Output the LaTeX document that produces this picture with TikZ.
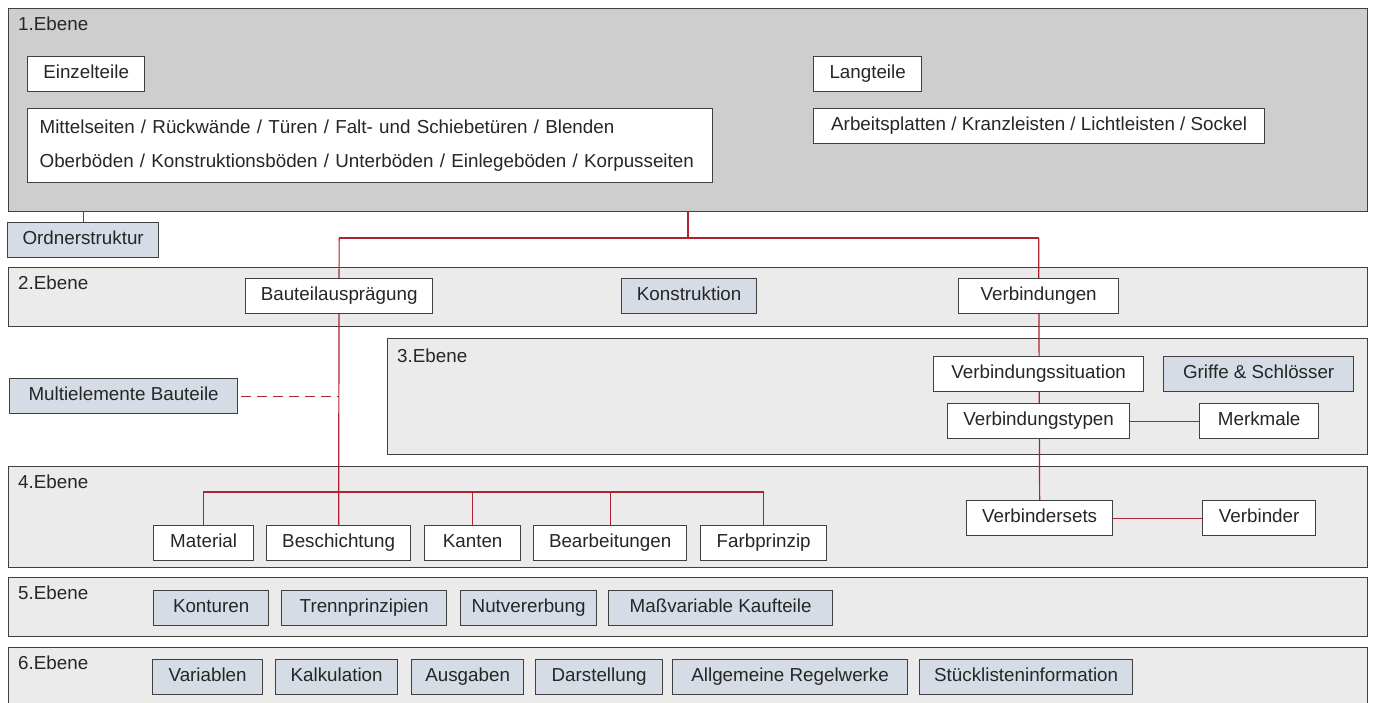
\documentclass[tikz,border=0pt]{standalone}
\usepackage{fontspec}
\setmainfont{Liberation Sans}
\usetikzlibrary{positioning}

\definecolor{rahmen}{HTML}{404040}
\definecolor{schrift}{HTML}{262626}
\definecolor{ebenegrau}{HTML}{CFCECE}
\definecolor{ebenehell}{HTML}{EBEBEB}
\definecolor{blaugrau}{HTML}{D6DCE5}
\definecolor{linienrot}{RGB}{175,35,45}

\pgfdeclarelayer{ebenen}
\pgfdeclarelayer{linien}
\pgfsetlayers{ebenen,linien,main}

\tikzset{
  ebene/.style={draw=rahmen, line width=1.3pt, fill=ebenehell, anchor=north west, minimum width=1359, inner sep=0},
  ebenenname/.style={anchor=base west, inner sep=0, text=schrift},
  box/.style={draw=rahmen, line width=1.3pt, fill=white, text=schrift, anchor=north west, minimum height=35,
    inner sep=0, text height=13.5, text depth=4},
  graubox/.style={box, fill=blaugrau},
  linie/.style={draw=linienrot, line width=1.2pt},
}

\begin{document}
\begin{tikzpicture}[x=1pt, y=-1pt, font=\fontsize{18.8}{22}\selectfont]
\useasboundingbox (0,0) rectangle (1373,702);

\begin{pgfonlayer}{ebenen}
  \fill[white] (0,0) rectangle (1373,702);
  \node[ebene, fill=ebenegrau, minimum height=203] (ebene1) at (8,8) {};
  \node[ebene, minimum height=59] (ebene2) at (8,267) {};
  \node[ebene, minimum width=980, minimum height=116] (ebene3) at (387,338) {};
  \node[ebene, minimum height=101] (ebene4) at (8,466) {};
  \node[ebene, minimum height=59] (ebene5) at (8,577) {};
  \node[ebene, minimum height=62] (ebene6) at (8,647) {};
\end{pgfonlayer}

\node[ebenenname] (name1) at (18,30) {1.Ebene};
\node[ebenenname] (name2) at (18,289) {2.Ebene};
\node[ebenenname] (name3) at (397,362) {3.Ebene};
\node[ebenenname] (name4) at (18,488) {4.Ebene};
\node[ebenenname] (name5) at (18,599) {5.Ebene};
\node[ebenenname] (name6) at (18,669) {6.Ebene};

% 1.Ebene
\node[box, minimum width=117] (einzelteile) at (27,56) {Einzelteile};
\node[box, text width=661, inner xsep=12, text height=, text depth=, minimum height=74, align=left,
      font=\fontsize{18.8}{34}\selectfont] (liste) at (27,108)
  {Mittelseiten / Rückwände / Türen / Falt- und Schiebetüren / Blenden\\
   Oberböden / Konstruktionsböden / Unterböden / Einlegeböden / Korpusseiten};
\node[box, minimum width=108] (langteile) at (813,56) {Langteile};
\node[box, minimum width=451] (leisten) at (813,108) {Arbeitsplatten / Kranzleisten / Lichtleisten / Sockel};
\node[graubox, minimum width=151] (ordner) at (7,222) {Ordnerstruktur};

% 2.Ebene
\node[box, minimum width=187] (auspraegung) at (245,278) {Bauteilausprägung};
\node[graubox, minimum width=135] (konstruktion) at (621,278) {Konstruktion};
\node[box, minimum width=160] (verbindungen) at (958,278) {Verbindungen};

% 3.Ebene
\node[graubox, minimum width=228] (multi) at (9,378) {Multielemente Bauteile};
\node[box, minimum width=210] (situation) at (933,356) {Verbindungssituation};
\node[graubox, minimum width=190] (griffe) at (1163,356) {Griffe \& Schlösser};
\node[box, minimum width=182] (typen) at (947,403) {Verbindungstypen};
\node[box, minimum width=119] (merkmale) at (1199,403) {Merkmale};

% 4.Ebene
\node[box, minimum width=100] (material) at (153,525) {Material};
\node[box, minimum width=144] (beschichtung) at (266,525) {Beschichtung};
\node[box, minimum width=96] (kanten) at (424,525) {Kanten};
\node[box, minimum width=153] (bearbeitungen) at (533,525) {Bearbeitungen};
\node[box, minimum width=126] (farbprinzip) at (700,525) {Farbprinzip};
\node[box, minimum width=146] (sets) at (966,500) {Verbindersets};
\node[box, minimum width=113] (verbinder) at (1202,500) {Verbinder};

% 5.Ebene
\node[graubox, minimum width=115] (konturen) at (153,590) {Konturen};
\node[graubox, minimum width=165] (trenn) at (281,590) {Trennprinzipien};
\node[graubox, minimum width=136] (nut) at (460,590) {Nutvererbung};
\node[graubox, minimum width=224] (kaufteile) at (608,590) {Maßvariable Kaufteile};

% 6.Ebene
\node[graubox, minimum width=110] (variablen) at (152,659) {Variablen};
\node[graubox, minimum width=122] (kalkulation) at (275,659) {Kalkulation};
\node[graubox, minimum width=112] (ausgaben) at (411,659) {Ausgaben};
\node[graubox, minimum width=127] (darstellung) at (535,659) {Darstellung};
\node[graubox, minimum width=235] (regelwerke) at (672,659) {Allgemeine Regelwerke};
\node[graubox, minimum width=213] (stueckliste) at (919,659) {Stücklisteninformation};

\coordinate (knoten) at (688,238);
\coordinate (schiene) at (338,492);

\begin{pgfonlayer}{linien}
  \draw[linie] (ordner.north) -- (ordner.north |- ebene1.south);
  \draw[linie] (knoten |- ebene1.south) -- (knoten);
  \draw[linie] (auspraegung.north |- knoten) -- (verbindungen.north |- knoten);
  \draw[linie] (auspraegung.north |- knoten) -- (beschichtung.north);
  \draw[linie] (verbindungen.north |- knoten) -- (sets.north);
  \draw[linie] (material.north) |- (schiene) -| (farbprinzip.north);
  \draw[linie] (kanten.north) -- (kanten.north |- schiene);
  \draw[linie] (bearbeitungen.north) -- (bearbeitungen.north |- schiene);
  \draw[linie, dash pattern=on 10pt off 6pt] (multi.east) ++(3,0) -- (multi.east -| auspraegung.north);
  \draw[linie] (typen) -- (merkmale);
  \draw[linie] (sets) -- (verbinder);
\end{pgfonlayer}
\end{tikzpicture}
\end{document}
